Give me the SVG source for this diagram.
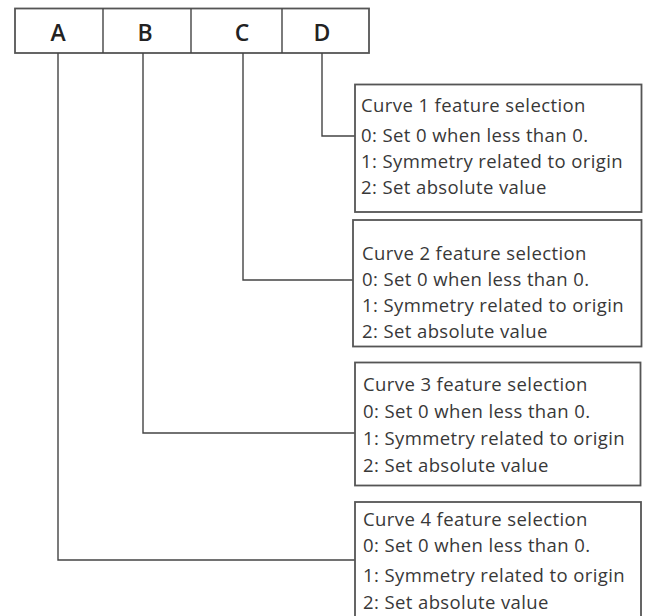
<svg xmlns="http://www.w3.org/2000/svg" width="645" height="616" viewBox="0 0 645 616">
<style>
.bx{fill:#fff;stroke:#555;stroke-width:1.8}
.ln{fill:none;stroke:#444;stroke-width:1.4}
.hd{font-family:"Open Sans","Liberation Sans",sans-serif;font-weight:600;font-size:23px;fill:#222;text-anchor:middle}
.t{font-family:"Open Sans","Noto Sans",sans-serif;font-size:18.5px;letter-spacing:0.4px;fill:#383838}
</style>
<rect width="645" height="616" fill="#fff"/>
<g id="header">
<rect class="bx" x="15" y="8.5" width="354" height="44.5"/>
<line class="ln" x1="103" y1="8.5" x2="103" y2="53"/>
<line class="ln" x1="191" y1="8.5" x2="191" y2="53"/>
<line class="ln" x1="282" y1="8.5" x2="282" y2="53"/>
<text class="hd" x="58" y="41">A</text>
<text class="hd" x="145" y="41">B</text>
<text class="hd" x="242" y="41">C</text>
<text class="hd" x="322" y="41">D</text>
</g>
<g id="connectors">
<polyline class="ln" points="322,53 322,136 355,136"/>
<polyline class="ln" points="243,53 243,280 353,280"/>
<polyline class="ln" points="143,53 143,433 355,433"/>
<polyline class="ln" points="58,53 58,560 355,560"/>
</g>
<g id="box1">
<rect class="bx" x="355" y="84.5" width="286.5" height="127.5"/>
<text class="t" x="361" y="112">Curve 1 feature selection</text>
<text class="t" x="361" y="142">0: Set 0 when less than 0.</text>
<text class="t" x="361" y="168">1: Symmetry related to origin</text>
<text class="t" x="361" y="194">2: Set absolute value</text>
</g>
<g id="box2">
<rect class="bx" x="353" y="220" width="288.5" height="126.5"/>
<text class="t" x="362" y="260">Curve 2 feature selection</text>
<text class="t" x="362" y="286">0: Set 0 when less than 0.</text>
<text class="t" x="362" y="312">1: Symmetry related to origin</text>
<text class="t" x="362" y="338">2: Set absolute value</text>
</g>
<g id="box3">
<rect class="bx" x="355" y="362.5" width="285.5" height="123"/>
<text class="t" x="363" y="391">Curve 3 feature selection</text>
<text class="t" x="363" y="418">0: Set 0 when less than 0.</text>
<text class="t" x="363" y="445">1: Symmetry related to origin</text>
<text class="t" x="363" y="472">2: Set absolute value</text>
</g>
<g id="box4">
<rect class="bx" x="355" y="502" width="286" height="120"/>
<text class="t" x="363" y="526">Curve 4 feature selection</text>
<text class="t" x="363" y="552">0: Set 0 when less than 0.</text>
<text class="t" x="363" y="582">1: Symmetry related to origin</text>
<text class="t" x="363" y="609">2: Set absolute value</text>
</g>
</svg>
